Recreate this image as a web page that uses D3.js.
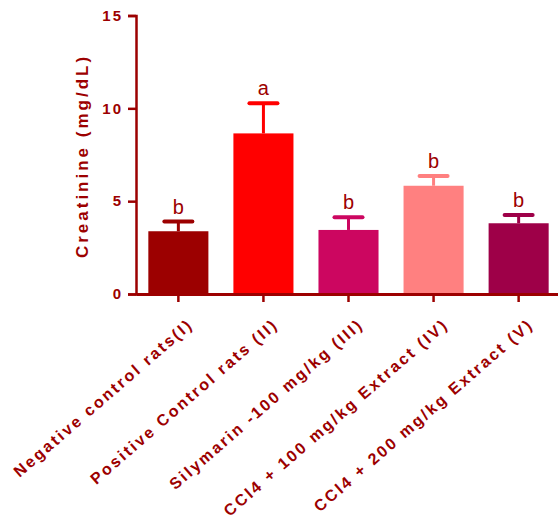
<!DOCTYPE html>
<html>
<head>
<meta charset="utf-8">
<script src="https://cdn.jsdelivr.net/npm/d3@7"></script>
<style>
  body { margin: 0; background: #fff; }
  svg { display: block; font-family: "Liberation Sans", Arial, sans-serif; }
</style>
</head>
<body>
<svg id="chart" width="558" height="521"></svg>
<script>
// Serum creatinine per treatment group (mean ± SEM)
const groups = [
  "Negative control rats(I)",
  "Positive Control rats (II)",
  "Silymarin -100 mg/kg (III)",
  "CCl4 + 100 mg/kg Extract (IV)",
  "CCl4 + 200 mg/kg Extract (V)"
];
const means = [3.38, 8.65, 3.45, 5.83, 3.81];
const errors = [0.52, 1.62, 0.68, 0.52, 0.44];
const letters = ["b", "a", "b", "b", "b"];
const barColors = ["#9c0000", "#ff0000", "#cc0660", "#ff8080", "#9e0048"];
const yTicks = [0, 5, 10, 15];

const axisColor = "#9c0000";
const svg = d3.select("#chart");

const x = d3.scaleBand()
  .domain(groups)
  .range([136, 561])
  .paddingInner(0.294)
  .paddingOuter(0.145);

const y = d3.scaleLinear().domain([0, 15]).range([294, 15.5]);

// Bars
svg.append("g").selectAll("rect")
  .data(groups)
  .join("rect")
  .attr("x", d => x(d))
  .attr("width", x.bandwidth())
  .attr("y", (d, i) => y(means[i]))
  .attr("height", (d, i) => y(0) - y(means[i]))
  .attr("fill", (d, i) => barColors[i]);

// Error bars (upper only) and significance letters
const eb = svg.append("g");
groups.forEach((g, i) => {
  const cx = x(g) + x.bandwidth() / 2;
  const top = y(means[i] + errors[i]);
  eb.append("line")
    .attr("x1", cx).attr("x2", cx)
    .attr("y1", y(means[i])).attr("y2", top)
    .attr("stroke", barColors[i]).attr("stroke-width", 3);
  eb.append("line")
    .attr("x1", cx - 14).attr("x2", cx + 14)
    .attr("y1", top).attr("y2", top)
    .attr("stroke", barColors[i]).attr("stroke-width", 4)
    .attr("stroke-linecap", "round");
  svg.append("text")
    .attr("x", cx)
    .attr("y", top - 8)
    .attr("text-anchor", "middle")
    .attr("fill", axisColor)
    .attr("font-size", 20)
    .text(letters[i]);
});

// Y axis
const yAxis = svg.append("g")
  .attr("transform", "translate(136,0)")
  .call(d3.axisLeft(y).tickValues(yTicks).tickSize(8).tickPadding(5));
yAxis.select(".domain").attr("stroke", axisColor).attr("stroke-width", 2.5);
yAxis.selectAll(".tick line").attr("stroke", axisColor).attr("stroke-width", 2.5);
yAxis.selectAll(".tick text")
  .attr("fill", axisColor)
  .attr("font-size", 15)
  .attr("font-weight", "bold")
  .attr("letter-spacing", "2px")
  .attr("font-family", "Liberation Sans, Arial, sans-serif");

// X axis
const xAxis = svg.append("g")
  .attr("transform", "translate(0,294)")
  .call(d3.axisBottom(x).tickSize(8).tickSizeOuter(0).tickPadding(4));
xAxis.select(".domain").attr("stroke", axisColor).attr("stroke-width", 3);
xAxis.selectAll(".tick line").attr("stroke", axisColor).attr("stroke-width", 2.5);
xAxis.selectAll(".tick text")
  .attr("fill", axisColor)
  .attr("font-size", 16)
  .attr("font-weight", "bold")
  .attr("letter-spacing", "2.4px")
  .attr("font-family", "Liberation Sans, Arial, sans-serif")
  .attr("text-anchor", "end")
  .attr("y", 0)
  .attr("dy", "0")
  .attr("transform", "translate(16,32) rotate(-41)");

// Y axis title
svg.append("text")
  .attr("transform", "translate(88,156) rotate(-90)")
  .attr("text-anchor", "middle")
  .attr("fill", axisColor)
  .attr("font-size", 17)
  .attr("font-weight", "bold")
  .attr("letter-spacing", "3px")
  .text("Creatinine (mg/dL)");
</script>
</body>
</html>
